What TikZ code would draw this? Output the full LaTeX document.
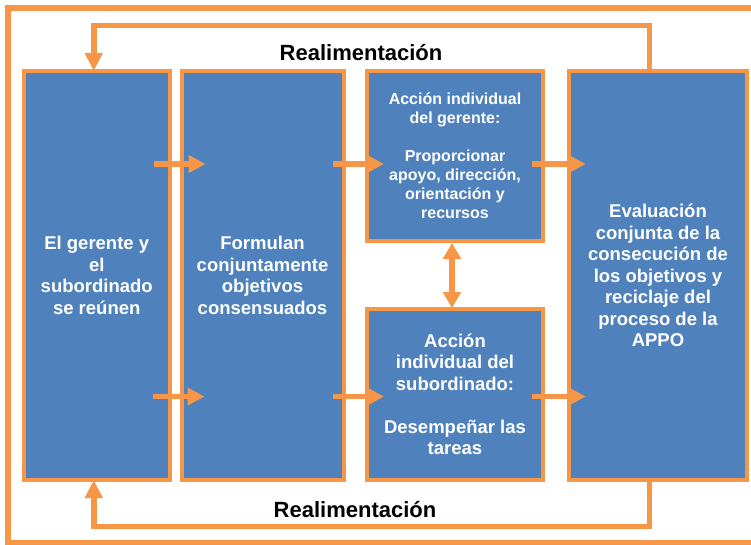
\documentclass[tikz,border=0pt]{standalone}
\usepackage{fontspec}
\setmainfont{Liberation Sans}
\usetikzlibrary{arrows.meta}
\definecolor{boxblue}{HTML}{4F81BD}
\definecolor{apporange}{HTML}{F79646}

\begin{document}
\begin{tikzpicture}[x=1pt, y=-1pt,
    stage/.style={draw=apporange, fill=boxblue, line width=4pt, outer sep=0pt, inner sep=0pt,
        text=white, align=center, font=\bfseries\fontsize{18.5}{21.5}\selectfont},
    flow/.style={apporange, line width=5.5pt, -{Triangle[length=17pt, width=17pt]},
        shorten <=-11pt, shorten >=-17pt},
    fback/.style={apporange, line width=5.5pt, -{Triangle[length=18pt, width=17pt]}},
    fblabel/.style={font=\bfseries\fontsize{22}{26}\selectfont, anchor=base}]
        \useasboundingbox (0,0) rectangle (751,544);
        \clip (0,0) rectangle (751,544);

        % --- OUTER FRAME ---
        \draw[apporange, line width=5.3pt] (8,8) rectangle (762,542.5);

        % --- STAGES OF THE APPO ---
        \node[stage, minimum width=146.5pt, minimum height=409pt] (meet) at (96.75,275.5)
            {El gerente y\\el\\subordinado\\se reúnen};
        \node[stage, minimum width=162pt, minimum height=409pt] (formulate) at (262.5,275.5)
            {Formulan\\conjuntamente\\objetivos\\consensuados};
        \node[stage, minimum width=176pt, minimum height=170pt,
            font=\bfseries\fontsize{16}{19}\selectfont] (manager) at (455,156)
            {Acción individual\\del gerente:\\[19pt]Proporcionar\\apoyo, dirección,\\orientación y\\recursos};
        \node[stage, minimum width=176pt, minimum height=171pt] (subordinate) at (455,394.5)
            {Acción\\individual del\\subordinado:\\[21.5pt]Desempeñar las\\tareas};
        \node[stage, minimum width=178.6pt, minimum height=409pt] (evaluate) at (658,275.5)
            {Evaluación\\conjunta de la\\consecución de\\los objetivos y\\reciclaje del\\proceso de la\\APPO};

        % rows of the forward arrows
        \coordinate (row1) at (0,164);
        \coordinate (row2) at (0,396.5);

        % --- FORWARD ARROWS ---
        \draw[flow, shorten <=-16pt, shorten >=-24pt] (meet.east |- row1) -- (formulate.west |- row1);
        \draw[flow] (formulate.east |- row1) -- (manager.west |- row1);
        \draw[flow] (manager.east |- row1) -- (evaluate.west |- row1);
        \draw[flow, shorten <=-17pt, shorten >=-23pt] (meet.east |- row2) -- (formulate.west |- row2);
        \draw[flow] (formulate.east |- row2) -- (subordinate.west |- row2);
        \draw[flow] (subordinate.east |- row2) -- (evaluate.west |- row2);

        % manager <-> subordinate
        \draw[apporange, line width=5.5pt,
            {Triangle[length=16pt, width=17.5pt]}-{Triangle[length=16pt, width=17.5pt]},
            shorten <=2pt, shorten >=1pt]
            ([xshift=-3pt]manager.south) -- ([xshift=-3pt]subordinate.north);

        % --- FEEDBACK LOOPS ---
        \draw[fback] ([xshift=-8.3pt]evaluate.north) -- ++(0,-45.5) -| ([xshift=-3pt]meet.north);
        \draw[fback] ([xshift=-8.3pt]evaluate.south) -- ++(0,46.5) -| ([xshift=-3pt]meet.south);
        \node[fblabel] (fbtop) at (361,60) {Realimentación};
        \node[fblabel] (fbbottom) at (355,517) {Realimentación};
\end{tikzpicture}
\end{document}
